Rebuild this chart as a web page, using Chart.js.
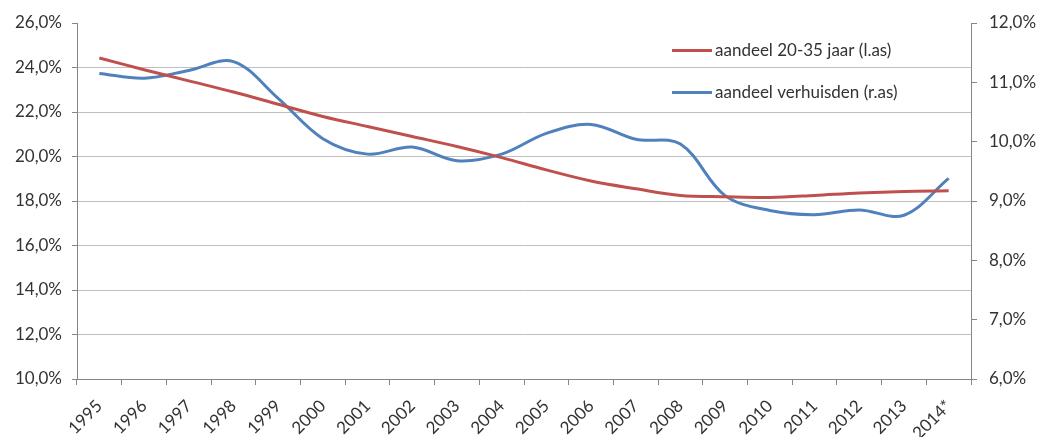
<!DOCTYPE html>
<html>
<head>
<meta charset="utf-8">
<script src="https://cdn.jsdelivr.net/npm/chart.js@4.4.1/dist/chart.umd.min.js"></script>
<style>
  html, body { margin: 0; padding: 0; background: #fff; }
  #wrap { width: 1040px; height: 437px; }
</style>
</head>
<body>
<div id="wrap"><canvas id="cMove"></canvas></div>
<script>
/* ── Data ── */
const years = ['1995', '1996', '1997', '1998', '1999', '2000', '2001', '2002', '2003', '2004',
               '2005', '2006', '2007', '2008', '2009', '2010', '2011', '2012', '2013', '2014*'];

// aandeel 20-35 jaar, left axis (%)
const share2035 = [24.43, 23.9, 23.4, 22.9, 22.35, 21.8, 21.35, 20.9, 20.45, 19.95,
                   19.4, 18.9, 18.55, 18.25, 18.19, 18.16, 18.25, 18.36, 18.43, 18.46];

// aandeel verhuisden, right axis (%)
const shareMoved = [11.15, 11.07, 11.2, 11.35, 10.73, 10.05, 9.79, 9.91, 9.68, 9.79,
                    10.14, 10.29, 10.04, 9.96, 9.09, 8.84, 8.77, 8.85, 8.76, 9.38];

const leftTicks  = { min: 10, max: 26, step: 2 };
const rightTicks = { min: 6,  max: 12, step: 1 };

/* ── Shared styles ── */
const FONT = { family: 'Lato, "Noto Sans", sans-serif', size: 17 };
const TXT  = '#333333';
const AXIS = '#868686';
const GRID = '#bfbfbf';
const pct  = v => v.toFixed(1).replace('.', ',') + '%';

/* ── Legend drawn inside the plot area ── */
const insideLegend = {
  id: 'insideLegend',
  afterDraw(chart) {
    const c = chart.ctx;
    const rows = [50.5, 92.5];
    c.save();
    c.font = FONT.size + 'px ' + FONT.family;
    c.textBaseline = 'middle';
    chart.data.datasets.forEach((ds, i) => {
      const y = rows[i];
      c.strokeStyle = ds.borderColor;
      c.lineWidth = 3;
      c.beginPath();
      c.moveTo(672, y);
      c.lineTo(712, y);
      c.stroke();
      c.fillStyle = TXT;
      c.fillText(ds.label, 715, y);
    });
    c.restore();
  }
};

new Chart(document.getElementById('cMove'), {
  type: 'line',
  data: {
    labels: years,
    datasets: [
      {
        label: 'aandeel 20-35 jaar (l.as)',
        data: share2035,
        yAxisID: 'y',
        borderColor: '#C0504D',
        borderWidth: 3,
        pointRadius: 0,
        tension: 0.35,
        fill: false
      },
      {
        label: 'aandeel verhuisden (r.as)',
        data: shareMoved,
        yAxisID: 'y1',
        borderColor: '#4F81BD',
        borderWidth: 3,
        pointRadius: 0,
        tension: 0.35,
        fill: false
      }
    ]
  },
  options: {
    responsive: true,
    maintainAspectRatio: false,
    animation: false,
    layout: { padding: { top: 23, left: 0, right: 0, bottom: 0 } },
    plugins: {
      legend: { display: false },
      tooltip: { enabled: false }
    },
    scales: {
      x: {
        offset: true,
        grid: { display: true, drawOnChartArea: false, offset: true, tickLength: 6, tickColor: AXIS },
        border: { color: AXIS },
        ticks: { font: FONT, color: TXT, minRotation: 45, maxRotation: 45, autoSkip: false, padding: 11 },
        afterFit: s => { s.height = 58; }
      },
      y: {
        position: 'left',
        min: leftTicks.min,
        max: leftTicks.max,
        grid: {
          color: c => (c.tick && c.tick.value === leftTicks.max) ? 'rgba(0,0,0,0)' : GRID,
          tickColor: AXIS,
          tickLength: 5
        },
        border: { color: AXIS },
        ticks: { stepSize: leftTicks.step, font: FONT, color: TXT, padding: 10, callback: pct },
        afterFit: s => { s.width = 77; }
      },
      y1: {
        position: 'right',
        min: rightTicks.min,
        max: rightTicks.max,
        grid: { drawOnChartArea: false, tickColor: AXIS, tickLength: 6 },
        border: { color: AXIS },
        ticks: { stepSize: rightTicks.step, font: FONT, color: TXT, padding: 12, callback: pct },
        afterFit: s => { s.width = 69; }
      }
    }
  },
  plugins: [insideLegend]
});
</script>
</body>
</html>
